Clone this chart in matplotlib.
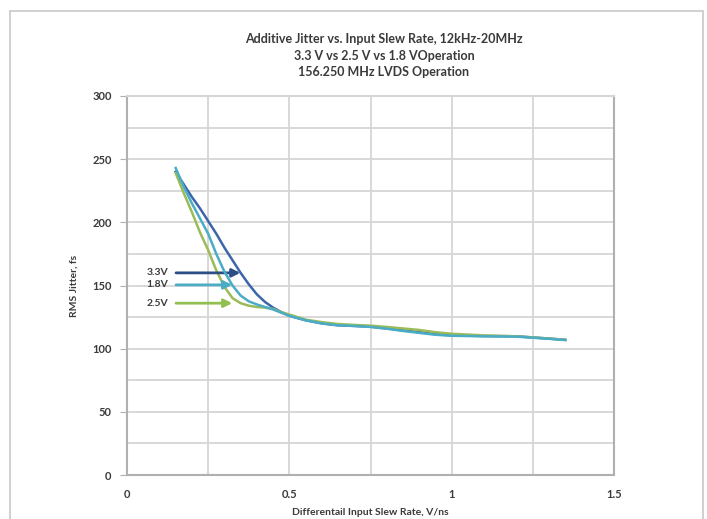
import matplotlib.pyplot as plt
from matplotlib.patches import Rectangle
from matplotlib.ticker import MultipleLocator

# slew rate (V/ns) and RMS jitter (fs)
slew = [0.15, 0.175, 0.2, 0.225, 0.25, 0.275, 0.3, 0.325, 0.35, 0.375, 0.4, 0.425, 0.45, 0.475, 0.5,
        0.55, 0.6, 0.65, 0.7, 0.75, 0.8, 0.85, 0.9, 0.95, 1.0, 1.1, 1.2, 1.3, 1.35]
jit_33 = [240, 230, 220, 211, 201, 191, 180, 170, 160, 151, 143, 137, 132.5, 129, 126,
          122.5, 120, 118.5, 118, 117.4, 116, 114.5, 113, 111.5, 110.5, 110, 109.8, 108, 107]
jit_18 = [243, 228, 215, 203, 191, 175, 161, 150, 142, 137.5, 135, 133, 131, 128.5, 126,
          122.5, 120, 118.5, 118, 117.2, 115.8, 114, 112.5, 111, 110.2, 109.8, 109.5, 107.8, 106.8]
jit_25 = [239, 223, 208, 192, 178, 162, 149, 140, 136, 134, 133, 132.5, 131.5, 129, 127,
          123, 121, 119.5, 118.8, 118.2, 117.2, 116, 114.8, 113, 111.8, 110.5, 109.8, 108, 107]

labels = ['3.3V', '1.8V', '2.5V']
label_y = [160, 150.5, 136]
arrow_x = [0.349, 0.324, 0.324]

c33, c18, c25 = '#3D66AA', '#4BACC6', '#9BBB59'
arrow_cols = ['#2C4E86', '#4BACC6', '#92C050']

plt.rcParams['font.family'] = ['Lato', 'DejaVu Sans']
txt = '#3a3a3a'

fig = plt.figure(figsize=(7.07, 5.19), dpi=100)
ax = fig.add_axes([127/707, 44/519, 487/707, 379/519])

ax.plot(slew, jit_33, color=c33, lw=1.8, zorder=3)
ax.plot(slew, jit_25, color=c25, lw=1.8, zorder=3)
ax.plot(slew, jit_18, color=c18, lw=1.8, zorder=4)

# arrow callouts naming each curve
for lab, yy, xe, col in zip(labels, label_y, arrow_x, arrow_cols):
    ax.text(0.094, yy, lab, ha='center', va='center', fontsize=7.5, color=txt, fontweight='bold')
    ax.annotate('', xy=(xe, yy), xytext=(0.151, yy),
                arrowprops=dict(arrowstyle='-|>', color=col, lw=2, mutation_scale=12,
                                shrinkA=0, shrinkB=0))

ax.set_xlim(0, 1.5)
ax.set_ylim(0, 300)
ax.xaxis.set_minor_locator(MultipleLocator(0.25))
ax.yaxis.set_major_locator(MultipleLocator(50))
ax.yaxis.set_minor_locator(MultipleLocator(25))
ax.set_xticks([0, 0.5, 1, 1.5])
ax.set_xticklabels(['0', '0.5', '1', '1.5'])
ax.grid(which='both', color='#d6d6d6', lw=1.3, zorder=0)
ax.set_axisbelow(True)
for s in ax.spines.values():
    s.set_color('#b0b0b0')
    s.set_linewidth(1.5)
ax.spines['top'].set_color('#d6d6d6')
ax.tick_params(which='both', colors='#b0b0b0', labelcolor=txt, labelsize=8)
ax.tick_params(axis='x', which='major', length=0, pad=10)
ax.tick_params(axis='x', which='minor', length=0)
ax.tick_params(axis='y', which='major', length=5, pad=6)
ax.tick_params(axis='y', which='minor', length=0)
for t in ax.get_xticklabels() + ax.get_yticklabels():
    t.set_fontweight('bold')

ax.set_xlabel('Differentail Input Slew Rate, V/ns', fontsize=7.5, fontweight='bold', color=txt, labelpad=6)
ax.set_ylabel('RMS Jitter, fs', fontsize=7.5, fontweight='bold', color=txt, labelpad=10)

fig.text(0.543, 1 - 33/519, 'Additive Jitter vs. Input Slew Rate, 12kHz-20MHz\n'
         '3.3 V vs 2.5 V vs 1.8 VOperation\n156.250 MHz LVDS Operation',
         ha='center', va='top', fontsize=9, fontweight='bold', color=txt, linespacing=1.45)

# light frame round the whole chart
fig.patches.append(Rectangle((10/707, -0.05), 693/707, 1.05 - 11/519, transform=fig.transFigure,
                             fill=False, edgecolor='#c8c8c8', lw=1.2))

fig.savefig('out.png', dpi=100)
